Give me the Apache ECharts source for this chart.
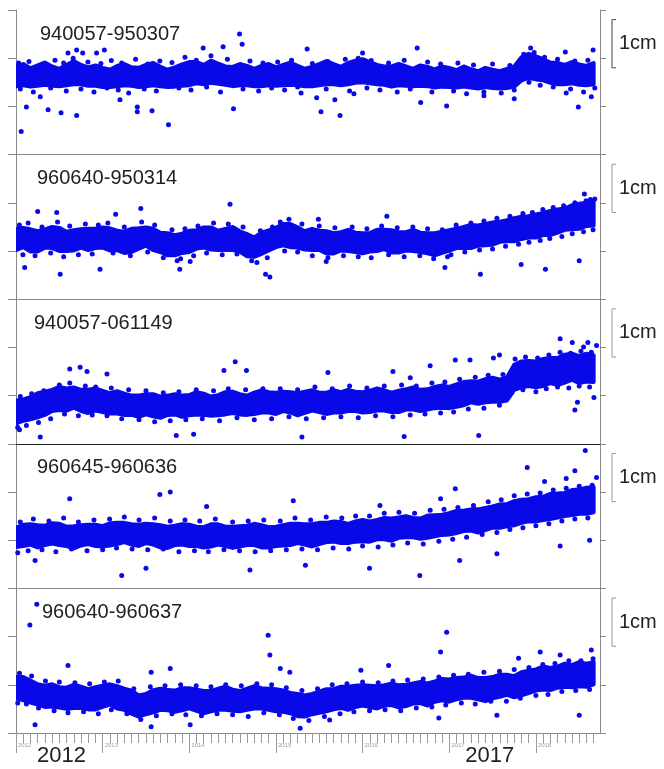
<!DOCTYPE html>
<html><head><meta charset="utf-8">
<script src="https://cdn.jsdelivr.net/npm/echarts@6/dist/echarts.min.js"></script>
<style>html,body{margin:0;padding:0;background:#fff}#c{width:664px;height:769px}</style>
</head><body><div id="c"></div>
<script>
// ---------------- DATA ----------------
const startYear = 2012;
const endYear = 2018.74;
const yearTicks = [2012, 2013, 2014, 2015, 2016, 2017, 2018];
const bigYearLabels = ['2012', '2017'];
const panelNames = ['940057-950307', '960640-950314', '940057-061149', '960645-960636', '960640-960637'];
const scaleLabel = '1cm';
const scaleBar = [1.8, 2.8]; // 1 cm bracket, in axis units (cm)

// monthly centre (cm) of the dense cloud, Jan 2012 .. Sep 2018
const p1Center = [1.62,1.66,1.60,1.64,1.68,1.63,1.60,1.65,1.70,1.66,1.62,1.64,
  1.60,1.58,1.63,1.66,1.62,1.60,1.64,1.67,1.62,1.58,1.61,1.65,
  1.68,1.70,1.66,1.72,1.68,1.64,1.62,1.66,1.64,1.60,1.63,1.66,
  1.62,1.65,1.68,1.64,1.60,1.62,1.66,1.70,1.67,1.63,1.68,1.72,
  1.74,1.70,1.66,1.64,1.62,1.66,1.63,1.60,1.64,1.62,1.58,1.62,
  1.60,1.57,1.62,1.58,1.55,1.60,1.57,1.55,1.58,1.62,1.78,1.84,
  1.80,1.76,1.70,1.68,1.66,1.70,1.66,1.64,1.68];
const p1Spread = [0.20,0.22,0.19,0.21,0.23,0.20,0.18,0.21,0.24,0.20,0.19,0.21,
  0.20,0.18,0.21,0.22,0.19,0.20,0.22,0.23,0.20,0.18,0.20,0.22,
  0.24,0.22,0.20,0.23,0.21,0.19,0.20,0.22,0.20,0.18,0.21,0.22,
  0.19,0.21,0.23,0.20,0.18,0.20,0.22,0.24,0.21,0.19,0.22,0.23,
  0.24,0.22,0.20,0.19,0.21,0.22,0.20,0.18,0.21,0.20,0.19,0.21,
  0.20,0.18,0.21,0.19,0.18,0.20,0.19,0.18,0.20,0.21,0.24,0.25,
  0.24,0.22,0.21,0.22,0.20,0.22,0.21,0.20,0.22];
const p1Dots = [[2012.03,1.90],[2012.15,1.93],[2012.31,1.88],[2012.45,1.96],[2012.55,1.90],[2012.66,2.00],[2012.83,1.92],[2012.98,1.89],[2013.10,1.95],[2013.22,1.90],[2013.38,1.98],[2013.52,1.88],[2013.66,1.94],[2013.80,1.91],[2013.95,2.02],[2014.08,1.96],[2014.25,2.05],[2014.44,1.98],[2014.70,1.94],[2014.85,1.90],[2015.02,1.92],[2015.18,1.96],[2015.42,1.89],[2015.60,1.93],[2015.80,1.98],[2015.95,2.00],[2016.10,1.95],[2016.30,1.90],[2016.48,1.96],[2016.75,1.92],[2016.90,1.88],[2017.10,1.90],[2017.28,1.86],[2017.50,1.88],[2017.70,1.85],[2017.86,2.08],[2017.98,2.12],[2018.10,2.02],[2018.25,1.98],[2018.45,1.94],[2018.60,1.96],
  [2012.05,1.36],[2012.20,1.30],[2012.40,1.38],[2012.58,1.32],[2012.75,1.36],[2012.90,1.30],[2013.05,1.38],[2013.18,1.34],[2013.30,1.28],[2013.48,1.36],[2013.62,1.32],[2013.88,1.38],[2014.02,1.34],[2014.20,1.40],[2014.36,1.30],[2014.62,1.36],[2014.80,1.32],[2014.95,1.38],[2015.10,1.34],[2015.25,1.40],[2015.58,1.36],[2015.85,1.32],[2016.05,1.38],[2016.20,1.34],[2016.40,1.30],[2016.55,1.36],[2016.80,1.30],[2017.05,1.32],[2017.20,1.26],[2017.40,1.30],[2017.60,1.28],[2017.75,1.34],[2017.92,1.50],[2018.05,1.44],[2018.20,1.40],[2018.40,1.36],[2018.55,1.30],[2018.68,1.38],
  [2012.06,0.48],[2012.12,0.99],[2012.28,1.20],[2012.37,0.93],[2012.52,0.87],[2012.70,0.81],[2012.60,2.11],[2012.70,2.17],[2012.77,2.11],[2012.93,2.11],[2013.02,2.17],[2013.20,1.14],[2013.40,0.89],[2013.40,0.99],[2013.57,0.91],[2013.76,0.62],[2014.16,2.21],[2014.39,2.24],[2014.51,0.95],[2014.58,2.50],[2014.61,2.29],[2015.29,1.28],[2015.36,2.19],[2015.47,1.18],[2015.52,0.89],[2015.68,1.14],[2015.74,0.81],[2015.90,1.26],[2016.00,2.11],[2016.63,2.21],[2016.67,1.08],[2016.97,1.01],[2017.40,1.22],[2017.75,1.16],[2017.94,2.21],[2018.34,2.13],[2018.35,1.28],[2018.49,0.99],[2018.64,1.20],[2018.66,2.17]];

const p2Center = [1.24,1.28,1.22,1.20,1.26,1.28,1.24,1.20,1.22,1.26,1.24,1.26,
  1.28,1.24,1.22,1.18,1.22,1.26,1.30,1.24,1.18,1.14,1.12,1.16,
  1.20,1.24,1.28,1.26,1.22,1.24,1.26,1.20,1.12,1.08,1.16,1.22,
  1.28,1.34,1.32,1.28,1.22,1.24,1.22,1.18,1.16,1.20,1.22,1.18,
  1.16,1.18,1.22,1.24,1.20,1.18,1.20,1.22,1.18,1.16,1.14,1.18,
  1.22,1.26,1.28,1.30,1.32,1.34,1.36,1.40,1.42,1.44,1.48,1.50,
  1.52,1.56,1.58,1.62,1.66,1.70,1.72,1.76,1.78];
const p2Spread = [0.22,0.20,0.23,0.21,0.19,0.22,0.24,0.20,0.21,0.19,0.22,0.20,
  0.21,0.23,0.20,0.22,0.24,0.21,0.19,0.22,0.20,0.23,0.21,0.20,
  0.22,0.19,0.21,0.23,0.20,0.22,0.24,0.21,0.23,0.20,0.22,0.21,
  0.20,0.22,0.24,0.21,0.19,0.22,0.20,0.23,0.21,0.19,0.22,0.20,
  0.21,0.19,0.22,0.20,0.23,0.21,0.19,0.22,0.20,0.21,0.23,0.22,
  0.21,0.20,0.22,0.24,0.21,0.22,0.23,0.21,0.22,0.24,0.23,0.22,
  0.24,0.23,0.25,0.24,0.22,0.25,0.26,0.24,0.25];
const p2Dots = [[2012.04,1.54],[2012.14,1.58],[2012.30,1.50],[2012.48,1.60],[2012.62,1.52],[2012.80,1.56],[2012.95,1.54],[2012.08,0.92],[2012.22,0.90],[2012.40,0.96],[2012.55,0.88],[2012.72,0.92],[2012.88,0.94],
  [2013.06,1.58],[2013.25,1.50],[2013.45,1.60],[2013.60,1.54],[2013.80,1.44],[2013.95,1.46],[2013.12,0.96],[2013.32,0.90],[2013.52,0.98],[2013.70,0.86],[2013.86,0.80],[2013.90,0.84],
  [2014.10,1.52],[2014.28,1.58],[2014.45,1.56],[2014.62,1.50],[2014.82,1.42],[2014.96,1.50],[2014.05,0.90],[2014.20,0.96],[2014.38,0.92],[2014.55,0.94],[2014.72,0.80],[2014.78,0.76],[2014.90,0.86],
  [2015.05,1.60],[2015.15,1.66],[2015.30,1.56],[2015.50,1.52],[2015.68,1.48],[2015.88,1.50],[2015.10,1.00],[2015.25,0.98],[2015.42,0.90],[2015.60,0.86],[2015.78,0.90],[2015.95,0.88],
  [2016.05,1.46],[2016.22,1.52],[2016.40,1.48],[2016.58,1.50],[2016.75,1.46],[2016.92,1.44],[2016.10,0.86],[2016.30,0.92],[2016.48,0.88],[2016.66,0.90],[2016.82,0.84],[2016.98,0.88],
  [2017.08,1.54],[2017.25,1.58],[2017.40,1.62],[2017.55,1.68],[2017.70,1.72],[2017.85,1.78],[2017.96,1.80],[2017.02,0.92],[2017.18,0.98],[2017.35,1.02],[2017.50,1.04],[2017.65,1.10],[2017.80,1.14],[2017.92,1.18],
  [2018.08,1.86],[2018.20,1.90],[2018.32,1.94],[2018.45,2.00],[2018.58,2.04],[2018.68,2.08],[2018.05,1.22],[2018.16,1.26],[2018.30,1.30],[2018.42,1.36],[2018.55,1.40],[2018.66,1.44],
  [2012.10,0.66],[2012.25,1.82],[2012.47,1.80],[2012.51,0.52],[2012.97,0.62],[2013.15,1.76],[2013.44,1.88],[2013.89,0.62],[2014.01,0.78],[2014.47,1.97],[2014.88,0.52],[2014.93,0.46],[2015.49,1.66],[2015.58,0.78],[2016.28,1.72],[2016.95,0.66],[2017.36,0.52],[2017.83,0.72],[2018.11,0.62],[2018.50,0.80],[2018.56,2.18],[2018.63,2.07]];

const p3Center = [0.66,0.70,0.74,0.80,0.84,0.90,0.94,0.92,0.96,0.90,0.88,0.92,
  0.88,0.84,0.86,0.82,0.80,0.78,0.82,0.80,0.76,0.80,0.82,0.78,
  0.80,0.84,0.82,0.78,0.80,0.84,0.86,0.82,0.80,0.84,0.88,0.86,
  0.84,0.88,0.86,0.82,0.86,0.90,0.86,0.84,0.88,0.86,0.90,0.88,
  0.86,0.88,0.92,0.90,0.86,0.88,0.92,0.94,0.90,0.92,0.96,0.98,
  0.96,1.00,1.04,1.08,1.06,1.10,1.12,1.10,1.14,1.38,1.44,1.46,
  1.44,1.48,1.52,1.50,1.56,1.60,1.54,1.58,1.56];
const p3Spread = [0.24,0.22,0.23,0.25,0.24,0.22,0.24,0.23,0.21,0.22,0.24,0.23,
  0.22,0.21,0.23,0.22,0.20,0.22,0.21,0.23,0.22,0.20,0.21,0.22,
  0.21,0.23,0.22,0.20,0.21,0.23,0.22,0.21,0.20,0.22,0.23,0.21,
  0.22,0.20,0.21,0.23,0.22,0.21,0.20,0.22,0.23,0.21,0.22,0.20,
  0.21,0.22,0.23,0.21,0.20,0.22,0.21,0.23,0.22,0.21,0.22,0.23,
  0.22,0.23,0.24,0.22,0.23,0.24,0.25,0.23,0.24,0.26,0.27,0.26,
  0.27,0.28,0.26,0.28,0.29,0.27,0.28,0.29,0.28];
const p3Dots = [[2012.05,0.98],[2012.18,1.04],[2012.32,1.10],[2012.50,1.22],[2012.62,1.26],[2012.80,1.20],[2012.92,1.18],[2013.10,1.16],[2013.30,1.12],[2013.50,1.10],[2013.70,1.06],[2013.88,1.08],[2014.08,1.12],[2014.28,1.10],[2014.45,1.14],[2014.65,1.12],[2014.85,1.14],[2015.05,1.14],[2015.25,1.12],[2015.45,1.18],[2015.65,1.14],[2015.85,1.20],[2016.05,1.16],[2016.25,1.20],[2016.45,1.22],[2016.62,1.20],[2016.80,1.26],[2016.95,1.28],[2017.12,1.34],[2017.30,1.38],[2017.45,1.42],[2017.62,1.44],[2017.76,1.76],[2017.88,1.80],[2018.02,1.78],[2018.15,1.84],[2018.28,1.90],[2018.40,1.88],[2018.52,1.92],[2018.64,1.90],
  [2012.02,0.34],[2012.12,0.38],[2012.26,0.44],[2012.40,0.52],[2012.56,0.62],[2012.72,0.58],[2012.88,0.60],[2013.05,0.58],[2013.22,0.52],[2013.42,0.50],[2013.60,0.46],[2013.78,0.48],[2013.96,0.50],[2014.15,0.52],[2014.35,0.48],[2014.55,0.54],[2014.75,0.50],[2014.95,0.52],[2015.15,0.56],[2015.35,0.52],[2015.55,0.54],[2015.75,0.56],[2015.95,0.54],[2016.15,0.58],[2016.35,0.56],[2016.55,0.60],[2016.72,0.62],[2016.90,0.64],[2017.05,0.66],[2017.22,0.72],[2017.40,0.74],[2017.58,0.80],[2017.72,1.06],[2017.85,1.12],[2018.00,1.08],[2018.12,1.14],[2018.25,1.18],[2018.38,1.16],[2018.50,1.20],[2018.62,1.18],
  [2012.04,0.29],[2012.28,0.14],[2012.62,1.55],[2012.74,1.59],[2012.82,1.50],[2013.05,1.45],[2013.85,0.17],[2014.05,0.20],[2014.40,1.52],[2014.53,1.70],[2014.66,1.52],[2015.30,0.14],[2015.60,1.48],[2016.35,1.50],[2016.55,1.37],[2016.48,0.15],[2016.78,1.62],[2017.07,1.74],[2017.24,1.74],[2017.34,0.17],[2017.51,1.78],[2017.58,1.84],[2018.28,2.18],[2018.42,2.10],[2018.45,0.70],[2018.48,0.86],[2018.55,2.01],[2018.60,2.10],[2018.67,0.96],[2018.70,2.04]];

const p4Center = [1.06,1.10,1.12,1.08,1.10,1.14,1.12,1.08,1.06,1.10,1.12,1.10,
  1.08,1.12,1.14,1.16,1.12,1.10,1.14,1.12,1.08,1.06,1.10,1.12,
  1.10,1.08,1.06,1.10,1.12,1.08,1.06,1.08,1.10,1.12,1.08,1.06,
  1.08,1.10,1.12,1.14,1.12,1.10,1.14,1.16,1.18,1.16,1.14,1.18,
  1.20,1.18,1.22,1.24,1.22,1.26,1.28,1.26,1.24,1.28,1.30,1.32,
  1.34,1.38,1.40,1.42,1.40,1.44,1.48,1.50,1.52,1.56,1.60,1.62,
  1.64,1.66,1.70,1.72,1.74,1.78,1.80,1.82,1.84];
const p4Spread = [0.20,0.22,0.21,0.23,0.20,0.21,0.22,0.20,0.23,0.21,0.20,0.22,
  0.21,0.23,0.22,0.20,0.21,0.22,0.20,0.21,0.23,0.22,0.20,0.21,
  0.22,0.20,0.21,0.23,0.21,0.20,0.22,0.21,0.20,0.22,0.23,0.21,
  0.20,0.21,0.22,0.20,0.21,0.23,0.22,0.20,0.21,0.22,0.20,0.21,
  0.22,0.21,0.20,0.22,0.23,0.21,0.22,0.20,0.21,0.23,0.22,0.21,
  0.22,0.23,0.21,0.22,0.24,0.23,0.22,0.24,0.23,0.25,0.24,0.23,
  0.25,0.24,0.26,0.25,0.24,0.26,0.25,0.27,0.26];
const p4Dots = [[2012.05,1.38],[2012.20,1.44],[2012.38,1.40],[2012.55,1.46],[2012.72,1.38],[2012.90,1.42],[2013.08,1.44],[2013.25,1.48],[2013.42,1.42],[2013.60,1.46],[2013.78,1.40],[2013.95,1.42],[2014.12,1.40],[2014.30,1.44],[2014.50,1.38],[2014.68,1.40],[2014.86,1.42],[2015.05,1.40],[2015.22,1.46],[2015.40,1.42],[2015.58,1.48],[2015.76,1.46],[2015.92,1.50],[2016.08,1.50],[2016.25,1.56],[2016.42,1.58],[2016.60,1.56],[2016.78,1.62],[2016.94,1.64],[2017.10,1.68],[2017.28,1.72],[2017.45,1.80],[2017.60,1.84],[2017.75,1.92],[2017.90,1.96],[2018.05,1.98],[2018.20,2.04],[2018.35,2.08],[2018.50,2.12],[2018.65,2.14],
  [2012.02,0.74],[2012.14,0.78],[2012.30,0.80],[2012.46,0.76],[2012.64,0.82],[2012.82,0.78],[2013.00,0.80],[2013.16,0.84],[2013.34,0.82],[2013.52,0.80],[2013.70,0.82],[2013.88,0.76],[2014.06,0.78],[2014.22,0.76],[2014.40,0.80],[2014.58,0.78],[2014.76,0.76],[2014.94,0.78],[2015.12,0.80],[2015.30,0.82],[2015.48,0.80],[2015.66,0.84],[2015.84,0.82],[2016.00,0.88],[2016.18,0.86],[2016.35,0.90],[2016.52,0.94],[2016.70,0.92],[2016.88,0.98],[2017.04,1.02],[2017.20,1.06],[2017.38,1.12],[2017.55,1.16],[2017.70,1.22],[2017.85,1.26],[2018.00,1.30],[2018.15,1.34],[2018.30,1.40],[2018.45,1.44],[2018.60,1.46],
  [2012.22,0.58],[2012.62,1.86],[2013.22,0.27],[2013.50,0.42],[2013.66,1.95],[2013.78,2.00],[2014.70,0.38],[2014.20,1.70],[2015.20,1.82],[2015.34,0.48],[2016.08,0.42],[2016.20,1.72],[2016.66,0.27],[2016.90,1.86],[2017.07,2.07],[2017.12,0.58],[2017.55,0.72],[2017.90,2.51],[2018.10,2.22],[2018.28,0.88],[2018.35,2.28],[2018.45,2.44],[2018.57,2.86],[2018.62,1.00],[2018.70,2.30]];

const p5Center = [0.94,0.92,0.86,0.80,0.76,0.78,0.74,0.72,0.76,0.74,0.70,0.72,
  0.76,0.80,0.74,0.70,0.64,0.56,0.60,0.66,0.70,0.68,0.66,0.70,
  0.72,0.68,0.64,0.66,0.70,0.72,0.68,0.66,0.70,0.74,0.72,0.70,
  0.68,0.66,0.62,0.58,0.56,0.60,0.64,0.68,0.70,0.74,0.72,0.76,
  0.78,0.76,0.74,0.78,0.80,0.76,0.78,0.82,0.84,0.80,0.86,0.90,
  0.88,0.92,0.94,0.96,0.92,0.90,0.94,0.98,1.00,0.96,1.02,1.06,
  1.10,1.14,1.12,1.16,1.20,1.18,1.22,1.20,1.24];
const p5Spread = [0.22,0.24,0.23,0.21,0.22,0.23,0.21,0.22,0.24,0.22,0.21,0.23,
  0.22,0.21,0.23,0.22,0.24,0.22,0.21,0.23,0.22,0.21,0.22,0.23,
  0.21,0.22,0.23,0.21,0.22,0.24,0.22,0.21,0.22,0.23,0.21,0.22,
  0.23,0.22,0.21,0.23,0.22,0.21,0.22,0.23,0.21,0.22,0.24,0.22,
  0.21,0.22,0.23,0.21,0.22,0.23,0.22,0.21,0.22,0.23,0.21,0.22,
  0.23,0.22,0.21,0.23,0.22,0.24,0.22,0.23,0.21,0.22,0.24,0.23,
  0.22,0.24,0.23,0.22,0.24,0.23,0.25,0.24,0.23];
const p5Dots = [[2012.04,1.24],[2012.18,1.18],[2012.34,1.08],[2012.50,1.06],[2012.68,1.04],[2012.85,1.02],[2013.02,1.06],[2013.18,1.08],[2013.36,0.92],[2013.55,0.96],[2013.72,0.98],[2013.90,1.00],[2014.08,0.98],[2014.25,0.96],[2014.42,1.00],[2014.60,0.98],[2014.78,1.02],[2014.95,1.00],[2015.12,0.94],[2015.30,0.88],[2015.48,0.92],[2015.65,1.00],[2015.82,1.02],[2016.00,1.06],[2016.18,1.04],[2016.35,1.08],[2016.52,1.10],[2016.70,1.12],[2016.88,1.16],[2017.05,1.20],[2017.22,1.22],[2017.40,1.26],[2017.58,1.28],[2017.75,1.32],[2017.92,1.36],[2018.08,1.42],[2018.22,1.44],[2018.38,1.50],[2018.52,1.50],[2018.66,1.54],
  [2012.02,0.62],[2012.12,0.60],[2012.26,0.52],[2012.44,0.46],[2012.60,0.42],[2012.78,0.44],[2012.95,0.40],[2013.10,0.48],[2013.28,0.40],[2013.44,0.28],[2013.62,0.36],[2013.80,0.40],[2013.96,0.38],[2014.14,0.36],[2014.32,0.40],[2014.50,0.38],[2014.68,0.34],[2014.86,0.42],[2015.04,0.38],[2015.20,0.30],[2015.38,0.26],[2015.56,0.34],[2015.74,0.40],[2015.90,0.44],[2016.08,0.46],[2016.26,0.48],[2016.44,0.46],[2016.62,0.52],[2016.80,0.54],[2016.96,0.58],[2017.14,0.62],[2017.30,0.60],[2017.48,0.66],[2017.66,0.66],[2017.82,0.72],[2018.00,0.78],[2018.14,0.80],[2018.30,0.86],[2018.46,0.88],[2018.62,0.90],
  [2012.24,2.67],[2012.16,2.24],[2012.22,0.17],[2012.60,1.40],[2013.56,1.26],[2013.78,1.34],[2013.56,0.13],[2014.01,0.17],[2014.91,2.03],[2014.93,1.62],[2015.05,1.34],[2015.16,1.26],[2015.28,0.10],[2015.62,0.27],[2015.98,1.30],[2016.30,1.40],[2016.90,1.68],[2016.97,2.09],[2016.88,0.31],[2017.55,0.37],[2017.80,1.55],[2018.05,1.68],[2018.28,1.62],[2018.50,0.37],[2018.64,1.72]];

// ---------------- LAYOUT / STYLE ----------------
const panels = [
  {name: panelNames[0], center: p1Center, spread: p1Spread, dots: p1Dots, lx: 40},
  {name: panelNames[1], center: p2Center, spread: p2Spread, dots: p2Dots, lx: 37},
  {name: panelNames[2], center: p3Center, spread: p3Spread, dots: p3Dots, lx: 34},
  {name: panelNames[3], center: p4Center, spread: p4Spread, dots: p4Dots, lx: 37},
  {name: panelNames[4], center: p5Center, spread: p5Spread, dots: p5Dots, lx: 42}
];
const BLUE = '#0808e8';
const GRID_LEFT = 16, GRID_RIGHT = 64, TOP0 = 10, PANEL_H = 144.6;
const FONT = '"Liberation Sans", Arial, sans-serif';
const bigYearOffsets = [21, 16];

const chart = echarts.init(document.getElementById('c'), null, {renderer: 'canvas'});

const grids = [], xAxes = [], yAxes = [], series = [];
panels.forEach((p, i) => {
  grids.push({left: GRID_LEFT, right: GRID_RIGHT, top: TOP0 + i * PANEL_H, height: PANEL_H, containLabel: false});
  const isLast = i === panels.length - 1;
  xAxes.push({
    gridIndex: i, type: 'value', min: startYear, max: endYear, position: 'bottom',
    axisLine: {show: true, lineStyle: {color: i === 2 ? '#222' : '#8a8a8a', width: 1}},
    axisTick: isLast ? {show: true, inside: false, length: 20, customValues: yearTicks, lineStyle: {color: '#999'}} : {show: false},
    axisLabel: isLast ? {show: true, customValues: yearTicks, fontSize: 6, color: '#a0a0a0', align: 'left', margin: 9,
      padding: [0, 0, 0, 2], fontFamily: FONT, formatter: v => String(Math.round(v))} : {show: false},
    splitLine: {show: false}
  });
  yAxes.push({
    gridIndex: i, type: 'value', min: 0, max: 3, interval: 1, position: 'left',
    axisLine: {show: true, lineStyle: {color: '#8a8a8a'}},
    axisTick: {show: true, inside: false, length: 8, lineStyle: {color: '#8a8a8a'}},
    axisLabel: {show: false}, splitLine: {show: false}
  });
  yAxes.push({
    gridIndex: i, type: 'value', min: 0, max: 3, interval: 1, position: 'right',
    axisLine: {show: true, lineStyle: {color: '#8a8a8a'}},
    axisTick: {show: true, inside: false, length: 6, lineStyle: {color: '#8a8a8a'}},
    axisLabel: {show: false}, splitLine: {show: false}
  });
});
// top frame line of first panel
xAxes.push({gridIndex: 0, type: 'value', min: startYear, max: endYear, position: 'top',
  axisLine: {show: true, lineStyle: {color: '#8a8a8a'}}, axisTick: {show: false}, axisLabel: {show: false}, splitLine: {show: false}});
// monthly minor ticks on bottom axis
const monthTicks = [];
yearTicks.forEach(y => { for (let k = 1; k < 12; k++) { const v = y + k / 12; if (v <= endYear) monthTicks.push(v); } });
xAxes.push({gridIndex: 4, type: 'value', min: startYear, max: endYear, position: 'bottom',
  axisLine: {show: false}, axisTick: {show: true, inside: false, length: 10, customValues: monthTicks, lineStyle: {color: '#9a9a9a'}},
  axisLabel: {show: false}, splitLine: {show: false}});

panels.forEach((p, i) => {
  const n = Math.min(p.center.length, p.spread.length);
  const band = [];
  for (let k = 0; k < n; k++) {
    band.push([startYear + k / 12, p.center[k] - p.spread[k], p.center[k] + p.spread[k]]);
  }
  // dense core of the cloud: polygon between lower and upper envelope, mapped through the axis scales
  series.push({
    type: 'custom', xAxisIndex: i, yAxisIndex: 2 * i, silent: true, animation: false, z: 2, clip: true,
    data: [band[0]],
    encode: {x: 0, y: 1},
    renderItem: function (params, api) {
      const upper = band.map(d => api.coord([d[0], d[2]]));
      const lower = band.map(d => api.coord([d[0], d[1]])).reverse();
      const cs = params.coordSys;
      return {type: 'polygon', shape: {points: upper.concat(lower)},
        clipPath: {type: 'rect', shape: {x: cs.x, y: cs.y, width: cs.width, height: cs.height}},
        style: {fill: BLUE, stroke: BLUE, lineWidth: 4, lineJoin: 'round'}};
    }
  });
  series.push({type: 'scatter', xAxisIndex: i, yAxisIndex: 2 * i, data: p.dots, symbol: 'circle', symbolSize: 5,
    itemStyle: {color: BLUE, opacity: 1}, silent: true, animation: false, z: 3});
});

chart.setOption({
  animation: false,
  backgroundColor: '#fff',
  grid: grids, xAxis: xAxes, yAxis: yAxes, series: series
});

// annotations: panel names, 1cm scale bars (positioned through y-axis scales), big year labels
const graphics = [];
panels.forEach((p, i) => {
  const gTop = TOP0 + i * PANEL_H;
  graphics.push({type: 'text', left: p.lx, top: gTop + 14,
    style: {text: p.name, fontSize: 20, fontFamily: FONT, fill: '#222'}});
  const yTop = chart.convertToPixel({yAxisIndex: 2 * i}, scaleBar[1]);
  const yBot = chart.convertToPixel({yAxisIndex: 2 * i}, scaleBar[0]);
  const bx = 612;
  const col = i === 0 ? '#444' : '#999';
  graphics.push({type: 'polyline', shape: {points: [[bx + 4, yTop], [bx, yTop], [bx, yBot], [bx + 4, yBot]]},
    style: {stroke: col, lineWidth: 1, fill: null}});
  graphics.push({type: 'text', x: 619, y: (yTop + yBot) / 2,
    style: {text: scaleLabel, fontSize: 20, fontFamily: FONT, fill: '#222', verticalAlign: 'middle', align: 'left'}});
});
const bigX = bigYearLabels.map(s => chart.convertToPixel({xAxisIndex: 4}, Number(s)));
bigYearLabels.forEach((s, j) => {
  graphics.push({type: 'text', x: bigX[j] + bigYearOffsets[j], y: 745,
    style: {text: s, fontSize: 22, fontFamily: FONT, fill: '#222'}});
});
chart.setOption({graphic: graphics});
</script>
</body></html>
